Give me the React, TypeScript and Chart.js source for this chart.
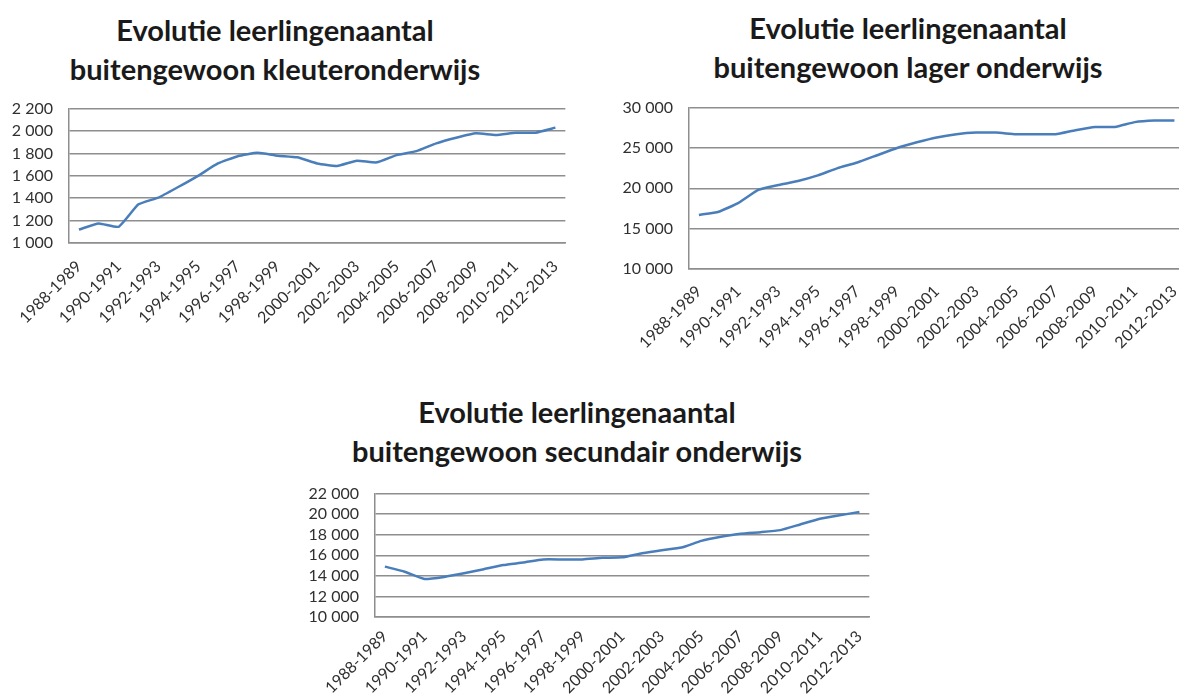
import React, { useEffect, useRef } from "react";
import { Chart, registerables } from "chart.js";

Chart.register(...registerables);

const schoolYears = [
  "1988-1989", "1989-1990", "1990-1991", "1991-1992", "1992-1993",
  "1993-1994", "1994-1995", "1995-1996", "1996-1997", "1997-1998",
  "1998-1999", "1999-2000", "2000-2001", "2001-2002", "2002-2003",
  "2003-2004", "2004-2005", "2005-2006", "2006-2007", "2007-2008",
  "2008-2009", "2009-2010", "2010-2011", "2011-2012", "2012-2013",
];

const kleuterValues = [
  1120, 1175, 1145, 1345, 1405, 1500, 1600, 1710, 1775, 1805, 1780, 1765,
  1710, 1688, 1735, 1720, 1785, 1820, 1890, 1940, 1980, 1965, 1985, 1985, 2030,
];

const lagerValues = [
  16700, 17100, 18200, 19800, 20400, 20900, 21600, 22500, 23200, 24100,
  25000, 25700, 26300, 26700, 26900, 26900, 26700, 26700, 26700, 27200,
  27600, 27600, 28200, 28400, 28400,
];

const secundairValues = [
  14900, 14400, 13700, 13900, 14250, 14650, 15050, 15300, 15600, 15600,
  15600, 15750, 15800, 16200, 16500, 16750, 17400, 17800, 18100, 18250,
  18450, 19000, 19550, 19900, 20200,
];

const kleuterTitle = ["Evolutie leerlingenaantal", "buitengewoon kleuteronderwijs"];
const lagerTitle = ["Evolutie leerlingenaantal", "buitengewoon lager onderwijs"];
const secundairTitle = ["Evolutie leerlingenaantal", "buitengewoon secundair onderwijs"];

const kleuterAxis = { min: 1000, max: 2200, step: 200 };
const lagerAxis = { min: 10000, max: 30000, step: 5000 };
const secundairAxis = { min: 10000, max: 22000, step: 2000 };

const fmt = (v: number) => String(v).replace(/\B(?=(\d{3})+(?!\d))/g, " ");

type Box = {
  left: number; top: number; width: number; height: number;
  yWidth: number; xHeight: number; labelPad: number;
};

const FONT = "Lato, 'Liberation Sans', sans-serif";

function LineChart(props: {
  values: number[];
  axis: { min: number; max: number; step: number };
  box: Box;
}) {
  const ref = useRef<HTMLCanvasElement | null>(null);
  const { values, axis, box } = props;
  useEffect(() => {
    if (!ref.current) return;
    const grid = "#8e8e8e";
    const chart = new Chart(ref.current, {
      type: "line",
      data: {
        labels: schoolYears,
        datasets: [
          {
            data: values,
            borderColor: "#4a7ebb",
            borderWidth: 2.5,
            pointRadius: 0,
            tension: 0.15,
            fill: false,
          },
        ],
      },
      options: {
        animation: false,
        responsive: false,
        maintainAspectRatio: false,
        layout: { padding: 0 },
        plugins: { legend: { display: false }, title: { display: false }, tooltip: { enabled: false } },
        scales: {
          x: {
            offset: true,
            grid: { display: false, drawTicks: false, offset: true },
            border: { display: true, color: grid, width: 1.5 },
            ticks: {
              autoSkip: false,
              maxRotation: 45,
              minRotation: 45,
              padding: box.labelPad,
              color: "#303030",
              font: { family: FONT, size: 16 },
              callback: (_v: any, i: number) => (i % 2 === 0 ? schoolYears[i] : ""),
            },
            afterFit: (s: any) => { s.height = box.xHeight; },
          },
          y: {
            min: axis.min,
            max: axis.max,
            grid: { color: grid, lineWidth: 1.5, drawTicks: false },
            border: { display: true, color: grid, width: 1.5 },
            ticks: {
              autoSkip: false,
              stepSize: axis.step,
              padding: 16,
              color: "#303030",
              font: { family: FONT, size: 16 },
              callback: (v: any) => fmt(Number(v)),
            },
            afterFit: (s: any) => { s.width = box.yWidth; },
          },
        },
      },
    });
    return () => chart.destroy();
  }, []);
  return (
    <canvas
      ref={ref}
      width={box.width}
      height={box.height}
      style={{ position: "absolute", left: box.left, top: box.top, width: box.width, height: box.height }}
    />
  );
}

function Title(props: { lines: string[]; cx: number; top: number }) {
  return (
    <div
      style={{
        position: "absolute",
        left: props.cx - 300,
        top: props.top,
        width: 600,
        textAlign: "center",
        fontFamily: FONT,
        fontWeight: 700,
        fontSize: 29,
        lineHeight: "39px",
        color: "#1a1a1a",
      }}
    >
      {props.lines.map((l, i) => (
        <div key={i}>{l}</div>
      ))}
    </div>
  );
}

export default function App() {
  return (
    <div style={{ position: "fixed", left: 0, top: 0, width: 1179, height: 697, background: "#fff", overflow: "hidden" }}>
      <Title lines={kleuterTitle} cx={275} top={10} />
      <Title lines={lagerTitle} cx={908} top={8} />
      <Title lines={secundairTitle} cx={577} top={392} />
      <LineChart
        values={kleuterValues}
        axis={kleuterAxis}
        box={{ left: 0, top: 83, width: 583, height: 267, yWidth: 69, xHeight: 107, labelPad: 14 }}
      />
      <LineChart
        values={lagerValues}
        axis={lagerAxis}
        box={{ left: 600, top: 82, width: 601, height: 278, yWidth: 89, xHeight: 91, labelPad: 13 }}
      />
      <LineChart
        values={secundairValues}
        axis={secundairAxis}
        box={{ left: 290, top: 468, width: 593, height: 229, yWidth: 85, xHeight: 80, labelPad: 10 }}
      />
    </div>
  );
}
